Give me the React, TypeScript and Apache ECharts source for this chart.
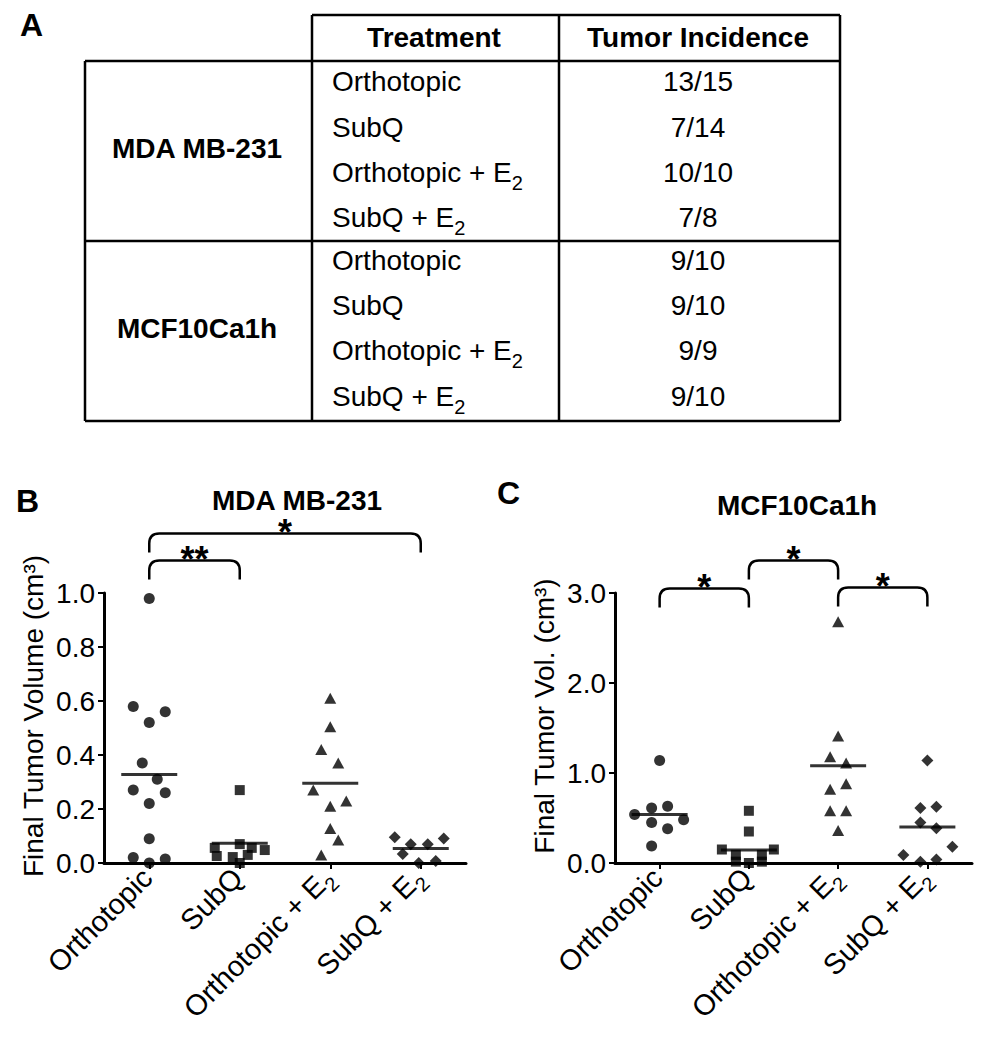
import React, { useEffect, useRef } from "react";
import * as echarts from "echarts";

const FONT = '"Liberation Sans", Arial, Helvetica, sans-serif';

// ---------- Panel A: table ----------
const tableHeaders = ["Treatment", "Tumor Incidence"];
const cellLines = ["MDA MB-231", "MCF10Ca1h"];
const treatments = ["Orthotopic", "SubQ", "Orthotopic + E₂", "SubQ + E₂"];
const incidenceMDA = ["13/15", "7/14", "10/10", "7/8"];
const incidenceMCF = ["9/10", "9/10", "9/9", "9/10"];

// ---------- Panels B/C: categories & ticks ----------
const categories = treatments;
const yTicksB = [0, 0.2, 0.4, 0.6, 0.8, 1.0];
const yTicksC = [0, 1.0, 2.0, 3.0];

// Panel B: MDA MB-231 final tumor volume (cm³)
const bOrthotopic = [0.98, 0.58, 0.56, 0.52, 0.37, 0.31, 0.27, 0.26, 0.22, 0.09, 0.02, 0.0, 0.015];
const bSubQ = [0.27, 0.07, 0.056, 0.056, 0.048, 0.026, 0.022, 0.03, 0.0];
const bOrthotopicE2 = [0.61, 0.505, 0.42, 0.37, 0.27, 0.21, 0.23, 0.128, 0.085, 0.03];
const bSubQE2 = [0.095, 0.069, 0.069, 0.091, 0.033, 0.0, 0.007];
const bMeans = [0.328, 0.073, 0.295, 0.054];

// Panel C: MCF10Ca1h final tumor volume (cm³)
const cOrthotopic = [1.14, 0.61, 0.63, 0.54, 0.48, 0.45, 0.38, 0.19];
const cSubQ = [0.58, 0.35, 0.15, 0.15, 0.09, 0.09, 0.015, 0.0, 0.015];
const cOrthotopicE2 = [2.68, 1.41, 1.18, 1.11, 0.82, 0.88, 0.58, 0.58, 0.36];
const cSubQE2 = [1.14, 0.61, 0.625, 0.45, 0.385, 0.18, 0.09, 0.015, 0.04];
const cMeans = [0.54, 0.145, 1.08, 0.4];

// horizontal scatter-dot spread (pixels), one per point
const bOrthotopicJitter = [0, -16, 16, 0, -7, 8, -16, 16, 0, 0, -16, 0, 16];
const bSubQJitter = [0, 0, -25, 12, 25, -23, -7, 8, 0];
const bOrthotopicE2Jitter = [0, 0, -9, 8, -17, 0, 16, 0, 8, -9];
const bSubQE2Jitter = [-26, -10, 7, 23, -18, -2, 15];
const cOrthotopicJitter = [0, -8, 8, -25, 24, -8, 8, -8];
const cSubQJitter = [0, 0, -27, 25, -13, 13, -13, 0, 13];
const cOrthotopicE2Jitter = [0, 0, -8, 8, -8, 8, -8, 8, 0];
const cSubQE2Jitter = [0, -7, 9, -7, 9, 25, -24, -7, 9];

// significance brackets: [fromCategory, toCategory, level]
const bBrackets = [[0, 1, 1.12], [0, 3, 1.22]];
const bBracketLabels = ["**", "*"];
const cBrackets = [[0, 1, 3.05], [1, 2, 3.36], [2, 3, 3.06]];
const cBracketLabels = ["*", "*", "*"];

const SUB_SIZE = 20;
const SUB_DROP = 15;

// turn "X + E₂" into rich text with a real lowered subscript
function richSub(s: string) {
  const i = s.indexOf("₂");
  if (i < 0) return `{n|${s}}`;
  return `{n|${s.slice(0, i)}}{sub|2}`;
}
function richStyles(size: number, padAll: boolean) {
  const full = SUB_SIZE + SUB_DROP;
  const extra = Math.max(0, full - size);
  return {
    n: {
      fontSize: size,
      lineHeight: padAll ? size + extra : size,
      verticalAlign: "top",
      padding: padAll ? [0, 0, extra, 0] : 0,
      fontFamily: FONT,
      fill: "#000",
      color: "#000",
    },
    sub: {
      fontSize: SUB_SIZE,
      lineHeight: full,
      padding: [SUB_DROP, 0, 0, 0],
      verticalAlign: "bottom",
      fontFamily: FONT,
      fill: "#000",
      color: "#000",
    },
  };
}

function txt(text: string, x: number, y: number, size: number, bold: boolean, align: string) {
  const hasSub = text.indexOf("₂") >= 0;
  const style: any = {
    text: hasSub ? richSub(text) : text,
    fill: "#000",
    fontSize: size,
    fontWeight: bold ? "bold" : "normal",
    fontFamily: FONT,
    align,
    textAlign: align,
    verticalAlign: "middle",
    textVerticalAlign: "middle",
  };
  let dy = 0;
  if (hasSub) {
    style.rich = richStyles(size, false);
    dy = (SUB_SIZE + SUB_DROP - size) / 2;
  }
  return { type: "text", x, y: y + dy, silent: true, style };
}

function hline(x1: number, x2: number, y: number) {
  return { type: "line", silent: true, shape: { x1, y1: y, x2, y2: y }, style: { stroke: "#000", lineWidth: 2.5 } };
}
function vline(x: number, y1: number, y2: number) {
  return { type: "line", silent: true, shape: { x1: x, y1, x2: x, y2 }, style: { stroke: "#000", lineWidth: 2.5 } };
}

function tableGraphics() {
  const L = 85, C1 = 312, C2 = 559, R = 840;
  const T = 15, H = 61, M = 241, B = 421;
  const rowsTop = [81, 127, 172, 217];
  const rowsBot = [260, 305, 350, 396];
  const els: any[] = [
    hline(C1, R, T), hline(L, R, H), hline(L, R, M), hline(L, R, B),
    vline(L, H, B), vline(C1, T, B), vline(C2, T, B), vline(R, T, B),
    txt(tableHeaders[0], 434, 37, 28, true, "center"),
    txt(tableHeaders[1], 698, 37, 28, true, "center"),
    txt(cellLines[0], 197, 148, 28, true, "center"),
    txt(cellLines[1], 197, 328, 28, true, "center"),
  ];
  treatments.forEach((t, i) => {
    els.push(txt(t, 332, rowsTop[i], 28, false, "left"));
    els.push(txt(incidenceMDA[i], 698, rowsTop[i], 28, false, "center"));
    els.push(txt(t, 332, rowsBot[i], 28, false, "left"));
    els.push(txt(incidenceMCF[i], 698, rowsBot[i], 28, false, "center"));
  });
  els.push(txt("A", 20, 25, 32, true, "left"));
  els.push(txt("B", 16, 501, 32, true, "left"));
  els.push(txt("C", 497, 493, 32, true, "left"));
  return els;
}

function pointSeries(cat: number, values: number[], jitter: number[], symbol: string, size: any, g: number) {
  return {
    type: "scatter",
    xAxisIndex: g,
    yAxisIndex: g,
    symbol,
    symbolSize: size,
    clip: false,
    silent: true,
    z: 3,
    itemStyle: { color: "#000" },
    data: values.map((v, i) => ({ value: [cat, v], symbolOffset: [jitter[i], 0] })),
  };
}

function meanSeries(means: number[], g: number) {
  return {
    type: "scatter",
    xAxisIndex: g,
    yAxisIndex: g,
    symbol: "rect",
    symbolSize: [56, 3],
    clip: false,
    silent: true,
    z: 4,
    itemStyle: { color: "#000" },
    data: means.map((m, i) => [i, m]),
  };
}

function bracketSeries(brackets: number[][], labels: string[], g: number) {
  return {
    type: "custom",
    xAxisIndex: g,
    yAxisIndex: g,
    coordinateSystem: "cartesian2d",
    clip: false,
    silent: true,
    encode: { x: [0, 1], y: 2 },
    data: brackets,
    renderItem: (params: any, api: any) => {
      const a = api.value(0), b = api.value(1), lv = api.value(2);
      const p1 = api.coord([a, lv]);
      const p2 = api.coord([b, lv]);
      const x1 = p1[0], x2 = p2[0], y = p1[1];
      const drop = 19, r = 10;
      const d = `M${x1},${y + drop} L${x1},${y + r} Q${x1},${y} ${x1 + r},${y} L${x2 - r},${y} Q${x2},${y} ${x2},${y + r} L${x2},${y + drop}`;
      return {
        type: "group",
        children: [
          { type: "path", shape: { pathData: d }, style: { stroke: "#000", lineWidth: 2.5, fill: "none" } },
          {
            type: "text",
            x: (x1 + x2) / 2,
            y: y - 1,
            style: {
              text: labels[params.dataIndex],
              fill: "#000",
              fontSize: 36,
              fontWeight: "bold",
              fontFamily: FONT,
              align: "center",
              textAlign: "center",
              verticalAlign: "middle",
              textVerticalAlign: "middle",
            },
          },
        ],
      };
    },
  };
}

function xAxis(g: number) {
  return {
    type: "category",
    gridIndex: g,
    data: categories,
    axisLine: { show: true, lineStyle: { color: "#000", width: 3 } },
    axisTick: { show: true, alignWithLabel: true, length: 6, lineStyle: { color: "#000", width: 2 } },
    axisLabel: {
      rotate: 45,
      fontSize: 29,
      color: "#000",
      fontFamily: FONT,
      margin: 12,
      interval: 0,
      formatter: (v: string) => richSub(v),
      rich: richStyles(29, true),
    },
    splitLine: { show: false },
  };
}

function yAxis(g: number, ticks: number[], name: string) {
  return {
    type: "value",
    gridIndex: g,
    min: ticks[0],
    max: ticks[ticks.length - 1],
    interval: ticks[1] - ticks[0],
    name,
    nameLocation: "middle",
    nameGap: 57,
    nameTextStyle: { fontSize: 28, color: "#000", fontFamily: FONT, padding: [0, 0, 0, 24] },
    axisLine: { show: true, lineStyle: { color: "#000", width: 3 } },
    axisTick: { show: true, length: 6, lineStyle: { color: "#000", width: 2 } },
    axisLabel: { fontSize: 28, color: "#000", fontFamily: FONT, margin: 9, formatter: (v: number) => v.toFixed(1) },
    splitLine: { show: false },
  };
}

function buildOption() {
  return {
    animation: false,
    backgroundColor: "#fff",
    textStyle: { fontFamily: FONT, color: "#000" },
    title: [
      { text: cellLines[0], left: 297, top: 486, textAlign: "center", padding: 0, textStyle: { fontSize: 28, fontWeight: "bold", color: "#000", fontFamily: FONT } },
      { text: cellLines[1], left: 797, top: 491, textAlign: "center", padding: 0, textStyle: { fontSize: 28, fontWeight: "bold", color: "#000", fontFamily: FONT } },
    ],
    grid: [
      { left: 104, top: 593, width: 362, height: 270, containLabel: false },
      { left: 615, top: 593, width: 357, height: 270, containLabel: false },
    ],
    xAxis: [xAxis(0), xAxis(1)],
    yAxis: [yAxis(0, yTicksB, "Final Tumor Volume (cm³)"), yAxis(1, yTicksC, "Final Tumor Vol. (cm³)")],
    graphic: { elements: tableGraphics() },
    series: [
      pointSeries(0, bOrthotopic, bOrthotopicJitter, "circle", 11, 0),
      pointSeries(1, bSubQ, bSubQJitter, "rect", 10, 0),
      pointSeries(2, bOrthotopicE2, bOrthotopicE2Jitter, "triangle", [12, 11], 0),
      pointSeries(3, bSubQE2, bSubQE2Jitter, "diamond", 12, 0),
      meanSeries(bMeans, 0),
      bracketSeries(bBrackets, bBracketLabels, 0),
      pointSeries(0, cOrthotopic, cOrthotopicJitter, "circle", 11, 1),
      pointSeries(1, cSubQ, cSubQJitter, "rect", 10, 1),
      pointSeries(2, cOrthotopicE2, cOrthotopicE2Jitter, "triangle", [12, 11], 1),
      pointSeries(3, cSubQE2, cSubQE2Jitter, "diamond", 12, 1),
      meanSeries(cMeans, 1),
      bracketSeries(cBrackets, cBracketLabels, 1),
    ],
  };
}

export default function App() {
  const ref = useRef<HTMLDivElement>(null);
  useEffect(() => {
    document.body.style.margin = "0";
    const chart = echarts.init(ref.current!, null, { renderer: "svg" });
    chart.setOption(buildOption() as any);
    return () => chart.dispose();
  }, []);
  return <div ref={ref} style={{ width: 983, height: 1050 }} />;
}
